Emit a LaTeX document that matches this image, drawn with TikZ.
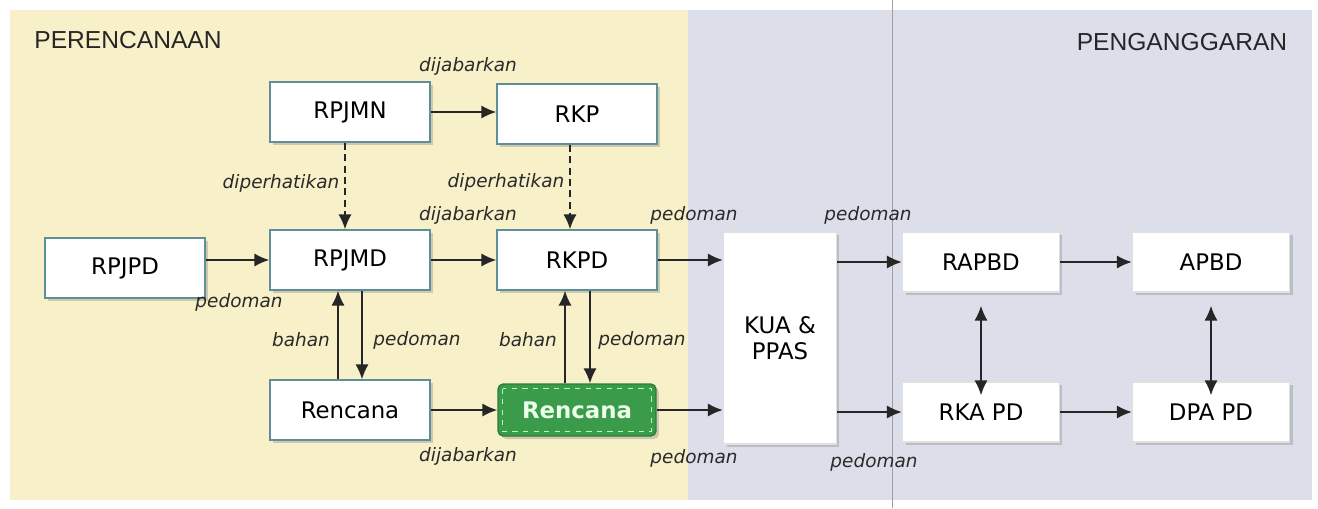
\documentclass[tikz,border=0pt]{standalone}
\usepackage{fontspec}
\setmainfont{DejaVu Sans}
\newfontfamily\titlefont{Liberation Sans}
\usetikzlibrary{arrows.meta,shadows}

\definecolor{planbg}{HTML}{F7F0C8}
\definecolor{budgetbg}{HTML}{DCDFE9}
\definecolor{boxline}{HTML}{5E8E98}
\definecolor{greenbox}{HTML}{3A9B4B}
\definecolor{lbltext}{HTML}{2A2A2A}

\tikzset{
  >={Latex[length=8.5pt,width=7.5pt]},
  docbox/.style={draw=boxline, line width=0.8pt, fill=white,
    minimum width=3.2cm, minimum height=1.2cm,
    font=\fontsize{13}{15}\selectfont,
    drop shadow={opacity=0.35, shadow xshift=0.06cm, shadow yshift=-0.06cm}},
  budgetbox/.style={docbox, draw=white!88!black, minimum width=3.14cm},
  greenbox/.style={draw=greenbox!80!black, line width=0.8pt, fill=greenbox,
    rounded corners=3pt, minimum width=3.16cm, minimum height=1.04cm,
    text=white!92!green, font=\fontsize{13}{15}\selectfont\bfseries,
    drop shadow={opacity=0.35, shadow xshift=0.06cm, shadow yshift=-0.06cm}},
  lbl/.style={font=\fontsize{10.5}{12}\selectfont\itshape, text=lbltext},
  title/.style={font=\titlefont\fontsize{14}{16}\selectfont, text=black!85},
  flow/.style={->, line width=1pt, draw=black!85},
}

\begin{document}
\begin{tikzpicture}[x=0.02cm, y=-0.02cm]
  \useasboundingbox (0,0) rectangle (1318,508);
  % backgrounds
  \fill[white] (0,0) rectangle (1318,508);
  \fill[planbg] (10,10) rectangle (688,500);
  \fill[budgetbg] (688,10) rectangle (1312,500);
  \draw[gray!75, line width=0.5pt] (892,0) -- (892,508);

  \node[title] (plan) at (128,40) {PERENCANAAN};
  \node[title] (budget) at (1182,42) {PENGANGGARAN};

  % planning documents
  \node[docbox] (rpjmn) at (350,112) {RPJMN};
  \node[docbox] (rkp) at (577,114) {RKP};
  \node[docbox] (rpjpd) at (125,268) {RPJPD};
  \node[docbox] (rpjmd) at (350,260) {RPJMD};
  \node[docbox] (rkpd) at (577,260) {RKPD};
  \node[docbox] (renstra) at (350,410) {Rencana};
  \node[greenbox] (renja) at (577,410) {Rencana};
  \draw[white!70!green, dashed, line width=0.5pt]
    ([shift={(3pt,-3pt)}]renja.north west) rectangle ([shift={(-3pt,3pt)}]renja.south east);

  % budgeting documents
  \node[budgetbox, minimum width=2.26cm, minimum height=4.24cm, align=center] (kua) at (780,338) {KUA \&\\PPAS};
  \node[budgetbox] (rapbd) at (981,262) {RAPBD};
  \node[budgetbox] (apbd) at (1211,262) {APBD};
  \node[budgetbox] (rkapd) at (981,412) {RKA PD};
  \node[budgetbox] (dpapd) at (1211,412) {DPA PD};

  % connectors
  \draw[flow] (rpjmn.east) -- (rpjmn.east -| rkp.west);
  \draw[flow, dash pattern=on 4pt off 2.5pt] ([xshift=-0.1cm]rpjmn.south) -- ([xshift=-0.1cm]rpjmd.north);
  \draw[flow, dash pattern=on 4pt off 2.5pt] ([xshift=-0.14cm]rkp.south) -- ([xshift=-0.14cm]rkpd.north);
  \draw[flow] (rpjmd.west -| rpjpd.east) -- (rpjmd.west);
  \draw[flow] (rpjmd) -- (rkpd);
  \draw[flow] (rkpd.east) -- (rkpd.east -| kua.west);
  \draw[flow] (kua.east |- rapbd.west) -- (rapbd.west);
  \draw[flow] (rapbd) -- (apbd);
  \draw[flow] ([xshift=-0.24cm]renstra.north) -- ([xshift=-0.24cm]rpjmd.south);
  \draw[flow] ([xshift=0.24cm]rpjmd.south) -- ([xshift=0.24cm]renstra.north);
  \draw[flow] ([xshift=-0.24cm]renja.north) -- ([xshift=-0.24cm]rkpd.south);
  \draw[flow] ([xshift=0.26cm]rkpd.south) -- ([xshift=0.26cm]renja.north);
  \draw[flow] (renstra) -- (renja);
  \draw[flow] (renja.east) -- (renja.east -| kua.west);
  \draw[flow] (kua.east |- rkapd.west) -- (rkapd.west);
  \draw[flow] (rkapd) -- (dpapd);
  \draw[flow, <->] ([yshift=-0.26cm]rapbd.south) -- ([yshift=-0.28cm]rkapd.north);
  \draw[flow, <->] ([yshift=-0.26cm]apbd.south) -- ([yshift=-0.28cm]dpapd.north);

  % labels
  \node[lbl] (dij1) at (468,66) {dijabarkan};
  \node[lbl] (dip1) at (281,183) {diperhatikan};
  \node[lbl] (dip2) at (506,182) {diperhatikan};
  \node[lbl] (dij2) at (468,215) {dijabarkan};
  \node[lbl] (ped1) at (694,215) {pedoman};
  \node[lbl] (ped2) at (868,215) {pedoman};
  \node[lbl] (ped3) at (239,302) {pedoman};
  \node[lbl] (bah1) at (301,340) {bahan};
  \node[lbl] (ped4) at (417,340) {pedoman};
  \node[lbl] (bah2) at (528,340) {bahan};
  \node[lbl] (ped5) at (642,340) {pedoman};
  \node[lbl] (dij3) at (468,456) {dijabarkan};
  \node[lbl] (ped6) at (694,458) {pedoman};
  \node[lbl] (ped7) at (874,462) {pedoman};
\end{tikzpicture}
\end{document}
